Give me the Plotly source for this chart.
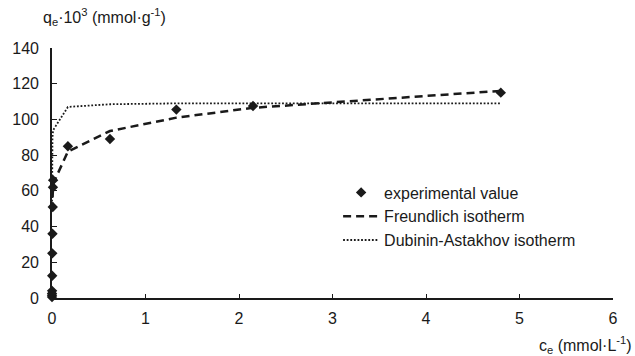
import plotly.graph_objects as go

# Experimental adsorption data: equilibrium concentration vs. uptake
c_exp = [0, 0, 0, 0.001, 0.002, 0.003, 0.005, 0.008, 0.01, 0.012, 0.17, 0.62, 1.33, 2.15, 4.8]
q_exp = [0.5, 1.5, 2.5, 4, 12.5, 25, 36, 51, 62, 66, 85, 89, 105.5, 107.5, 115]

# Freundlich isotherm (fitted curve values at the experimental concentrations)
c_fr = [0.001, 0.003, 0.005, 0.012, 0.17, 0.62, 1.33, 2.15, 4.8]
q_fr = [49, 55, 58, 64, 82, 93.5, 101, 106.5, 116]

# Dubinin-Astakhov isotherm (fitted curve values)
c_da = [0.0, 0.001, 0.003, 0.005, 0.012, 0.17, 0.62, 1.33, 2.15, 4.8]
q_da = [52, 80, 87, 90, 94, 107, 108.5, 109, 109, 109]

x_ticks = [0, 1, 2, 3, 4, 5, 6]
y_ticks = [0, 20, 40, 60, 80, 100, 120, 140]

ink = "#1a1a1a"
font_family = "Liberation Sans, Arial, sans-serif"

fig = go.Figure()
fig.add_trace(go.Scatter(
    x=c_exp, y=q_exp, mode="markers", name="experimental value",
    marker=dict(symbol="diamond", size=8, color=ink),
    cliponaxis=False,
))
fig.add_trace(go.Scatter(
    x=c_fr, y=q_fr, mode="lines", name="Freundlich isotherm",
    line=dict(color=ink, width=2.5, dash="8px,5px"),
))
fig.add_trace(go.Scatter(
    x=c_da, y=q_da, mode="lines", name="Dubinin-Astakhov isotherm",
    line=dict(color=ink, width=1.8, dash="1.8px,1.8px"),
))

fig.update_layout(
    width=635, height=356,
    margin=dict(l=52, r=22, t=48, b=58),
    paper_bgcolor="white", plot_bgcolor="white",
    font=dict(family=font_family, size=16, color=ink),
    showlegend=True,
    legend=dict(
        x=0.51, y=0.49, xanchor="left", yanchor="top",
        bgcolor="rgba(0,0,0,0)", font=dict(size=16),
        itemwidth=36, tracegroupgap=0,
    ),
    xaxis=dict(
        range=[0, 6], tickvals=x_ticks, showgrid=False, zeroline=False,
        showline=True, linecolor=ink, linewidth=1.6,
        ticks="inside", ticklen=4, tickcolor=ink, tickwidth=1,
        ticklabelstandoff=5,
    ),
    yaxis=dict(
        range=[0, 140], tickvals=y_ticks, showgrid=False, zeroline=False,
        showline=True, linecolor=ink, linewidth=1.6,
        ticks="inside", ticklen=5, tickcolor=ink, tickwidth=1,
        ticklabelstandoff=8,
    ),
    annotations=[
        dict(text="q<sub>e</sub>·10<sup>3</sup> (mmol·g<sup>-1</sup>)",
             xref="paper", yref="paper", x=-0.02, y=1.0, yshift=31,
             xanchor="left", yanchor="middle", showarrow=False,
             font=dict(size=16, color=ink)),
        dict(text="c<sub>e</sub> (mmol·L<sup>-1</sup>)",
             xref="paper", yref="paper", x=1.038, y=0, yshift=-47,
             xanchor="right", yanchor="middle", showarrow=False,
             font=dict(size=16, color=ink)),
    ],
)

fig.write_html("out.html")
